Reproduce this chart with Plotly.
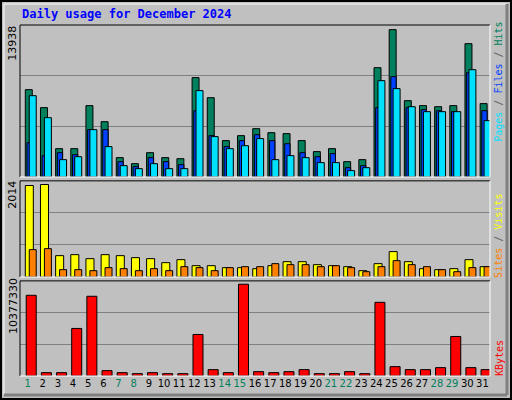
import plotly.graph_objects as go

days = list(range(1, 32))
weekend = [1, 7, 8, 14, 15, 21, 22, 28, 29]

hits = [8260, 6560, 2680, 2680, 6750, 5230, 1830, 1260, 2300, 1830, 1730, 9400, 7500, 3440, 3910,
        4570, 4190, 4100, 3440, 2400, 2680, 1450, 1640, 10340, 13938, 7220, 6750, 6650, 6750, 12610, 6940]
files = [3250, 2020, 2300, 2110, 4480, 4480, 1450, 980, 1830, 1450, 1170, 6270, 3910, 2870, 3440,
         4000, 3440, 3150, 2300, 1920, 2210, 880, 1070, 6560, 9490, 6560, 6370, 6270, 6180, 9870, 6270]
pages = [7690, 5610, 1640, 1920, 4480, 2870, 1070, 790, 1260, 790, 790, 8170, 3820, 2680, 2960,
         3630, 1640, 2020, 1830, 1360, 1360, 600, 880, 9110, 8360, 6650, 6180, 6180, 6180, 10150, 5330]
visits = [1992, 2014, 465, 487, 400, 487, 465, 422, 400, 313, 378, 247, 247, 204, 204,
          182, 247, 334, 334, 269, 247, 225, 138, 291, 553, 334, 182, 160, 182, 378, 225]
sites = [596, 618, 160, 160, 138, 204, 182, 138, 182, 138, 225, 204, 138, 204, 225,
         225, 291, 269, 269, 225, 247, 204, 116, 225, 356, 269, 225, 160, 116, 204, 225]
kbytes = [9127000, 379000, 379000, 5378000, 9014000, 606000, 379000, 265000, 379000, 265000, 265000,
          4696000, 720000, 379000, 10377330, 492000, 379000, 492000, 720000, 265000, 265000, 492000,
          265000, 8332000, 1060000, 720000, 720000, 947000, 4469000, 947000, 720000]

bg = "#C0C0C0"
fig = go.Figure()
line = dict(color="black", width=1)

def bar(y, color, off, w, ax):
    fig.add_trace(go.Bar(x=days, y=y, offset=off, width=w, marker=dict(color=color, line=line),
                         yaxis=ax, showlegend=False, hoverinfo="skip"))

bar(hits, "#00805C", -0.15, 0.46, "y")
bar(files, "#0040FF", -0.04, 0.35, "y")
bar(pages, "#00E0FF", 0.11, 0.46, "y")
bar(visits, "#FFFF00", -0.15, 0.53, "y2")
bar(sites, "#FF8000", 0.11, 0.46, "y2")
bar(kbytes, "#FF0000", -0.09, 0.66, "y3")

ticktext = ['<span style="color:#00805C">%d</span>' % d if d in weekend else str(d) for d in days]
fig.update_layout(
    width=512, height=400, paper_bgcolor=bg, plot_bgcolor=bg, barmode="overlay",
    margin=dict(l=20, r=22, t=25, b=24, autoexpand=False),
    xaxis=dict(range=[0.5, 31.5], tickvals=days, ticktext=ticktext, showgrid=False, ticks="",
               tickfont=dict(family="DejaVu Sans", size=10, color="black"), anchor="y3", zeroline=False),
    yaxis=dict(domain=[0.567, 1], range=[0, 456 * 31.53], dtick=152 * 31.53, showticklabels=False,
               gridcolor="#808080", zeroline=False),
    yaxis2=dict(domain=[0.282, 0.556], range=[0, 288 * 7.27], dtick=96 * 7.27, showticklabels=False,
                gridcolor="#808080", zeroline=False),
    yaxis3=dict(domain=[0, 0.271], range=[0, 284 * 37873], dtick=284 * 37873 / 3, showticklabels=False,
                gridcolor="#808080", zeroline=False),
)

mono = "DejaVu Sans Mono"
sans = dict(family="DejaVu Sans", size=11, color="black")

def vtext(x, y, text, font):
    return dict(x=x, y=y, xref="paper", yref="paper", xanchor="center", yanchor="middle",
                textangle=-90, text=text, font=font, showarrow=False)

ann = [
    dict(x=0, y=1, xref="paper", yref="paper", xanchor="left", yanchor="bottom", yshift=2, showarrow=False,
         text="<b>Daily usage for December 2024</b>", font=dict(family=mono, size=12, color="#0000FF")),
    vtext(-0.015, 0.949, "13938", sans),
    vtext(-0.015, 0.516, "2014", sans),
    vtext(-0.015, 0.199, "10377330", sans),
    vtext(1.019, 0.838, '<span style="color:#00E0FF">Pages</span> / <span style="color:#0040FF">Files</span> / '
          '<span style="color:#00805C">Hits</span>', dict(family=mono, size=10, color="#606060")),
    vtext(1.019, 0.399, '<span style="color:#FF8000">Sites</span> / <span style="color:#FFFF00">Visits</span>',
          dict(family=mono, size=10, color="#606060")),
    vtext(1.019, 0.051, "KBytes", dict(family=mono, size=10, color="#FF0000")),
]
fig.update_layout(annotations=ann)

def px(xp, yp):
    return (xp - 20) / 470, (376 - yp) / 351

shapes = []
for y0, y1 in [(0.567, 1), (0.282, 0.556), (0, 0.271)]:
    shapes.append(dict(type="line", xref="paper", yref="paper", x0=0, x1=1, y0=y1, y1=y1, line=dict(color="black", width=1)))
    shapes.append(dict(type="line", xref="paper", yref="paper", x0=0, x1=0, y0=y0, y1=y1, line=dict(color="black", width=1)))
    shapes.append(dict(type="line", xref="paper", yref="paper", x0=0, x1=1, y0=y0, y1=y0, line=dict(color="white", width=1)))
    shapes.append(dict(type="line", xref="paper", yref="paper", x0=1, x1=1, y0=y0, y1=y1, line=dict(color="white", width=1)))
# outer bevel frame
a = px(1, 1); b = px(511, 399)
shapes.append(dict(type="rect", xref="paper", yref="paper", x0=a[0], x1=b[0], y0=b[1], y1=a[1],
                   line=dict(color="black", width=2)))
a = px(4, 4); b = px(507, 395)
shapes.append(dict(type="line", xref="paper", yref="paper", x0=a[0], x1=b[0], y0=a[1], y1=a[1], line=dict(color="white", width=1)))
shapes.append(dict(type="line", xref="paper", yref="paper", x0=a[0], x1=a[0], y0=b[1], y1=a[1], line=dict(color="white", width=1)))
shapes.append(dict(type="line", xref="paper", yref="paper", x0=a[0], x1=b[0], y0=b[1], y1=b[1], line=dict(color="#808080", width=3)))
shapes.append(dict(type="line", xref="paper", yref="paper", x0=b[0], x1=b[0], y0=b[1], y1=a[1], line=dict(color="#808080", width=3)))
fig.update_layout(shapes=shapes)

fig.write_html("out.html", config={"displayModeBar": False},
               post_script="document.body.style.margin='0';")
